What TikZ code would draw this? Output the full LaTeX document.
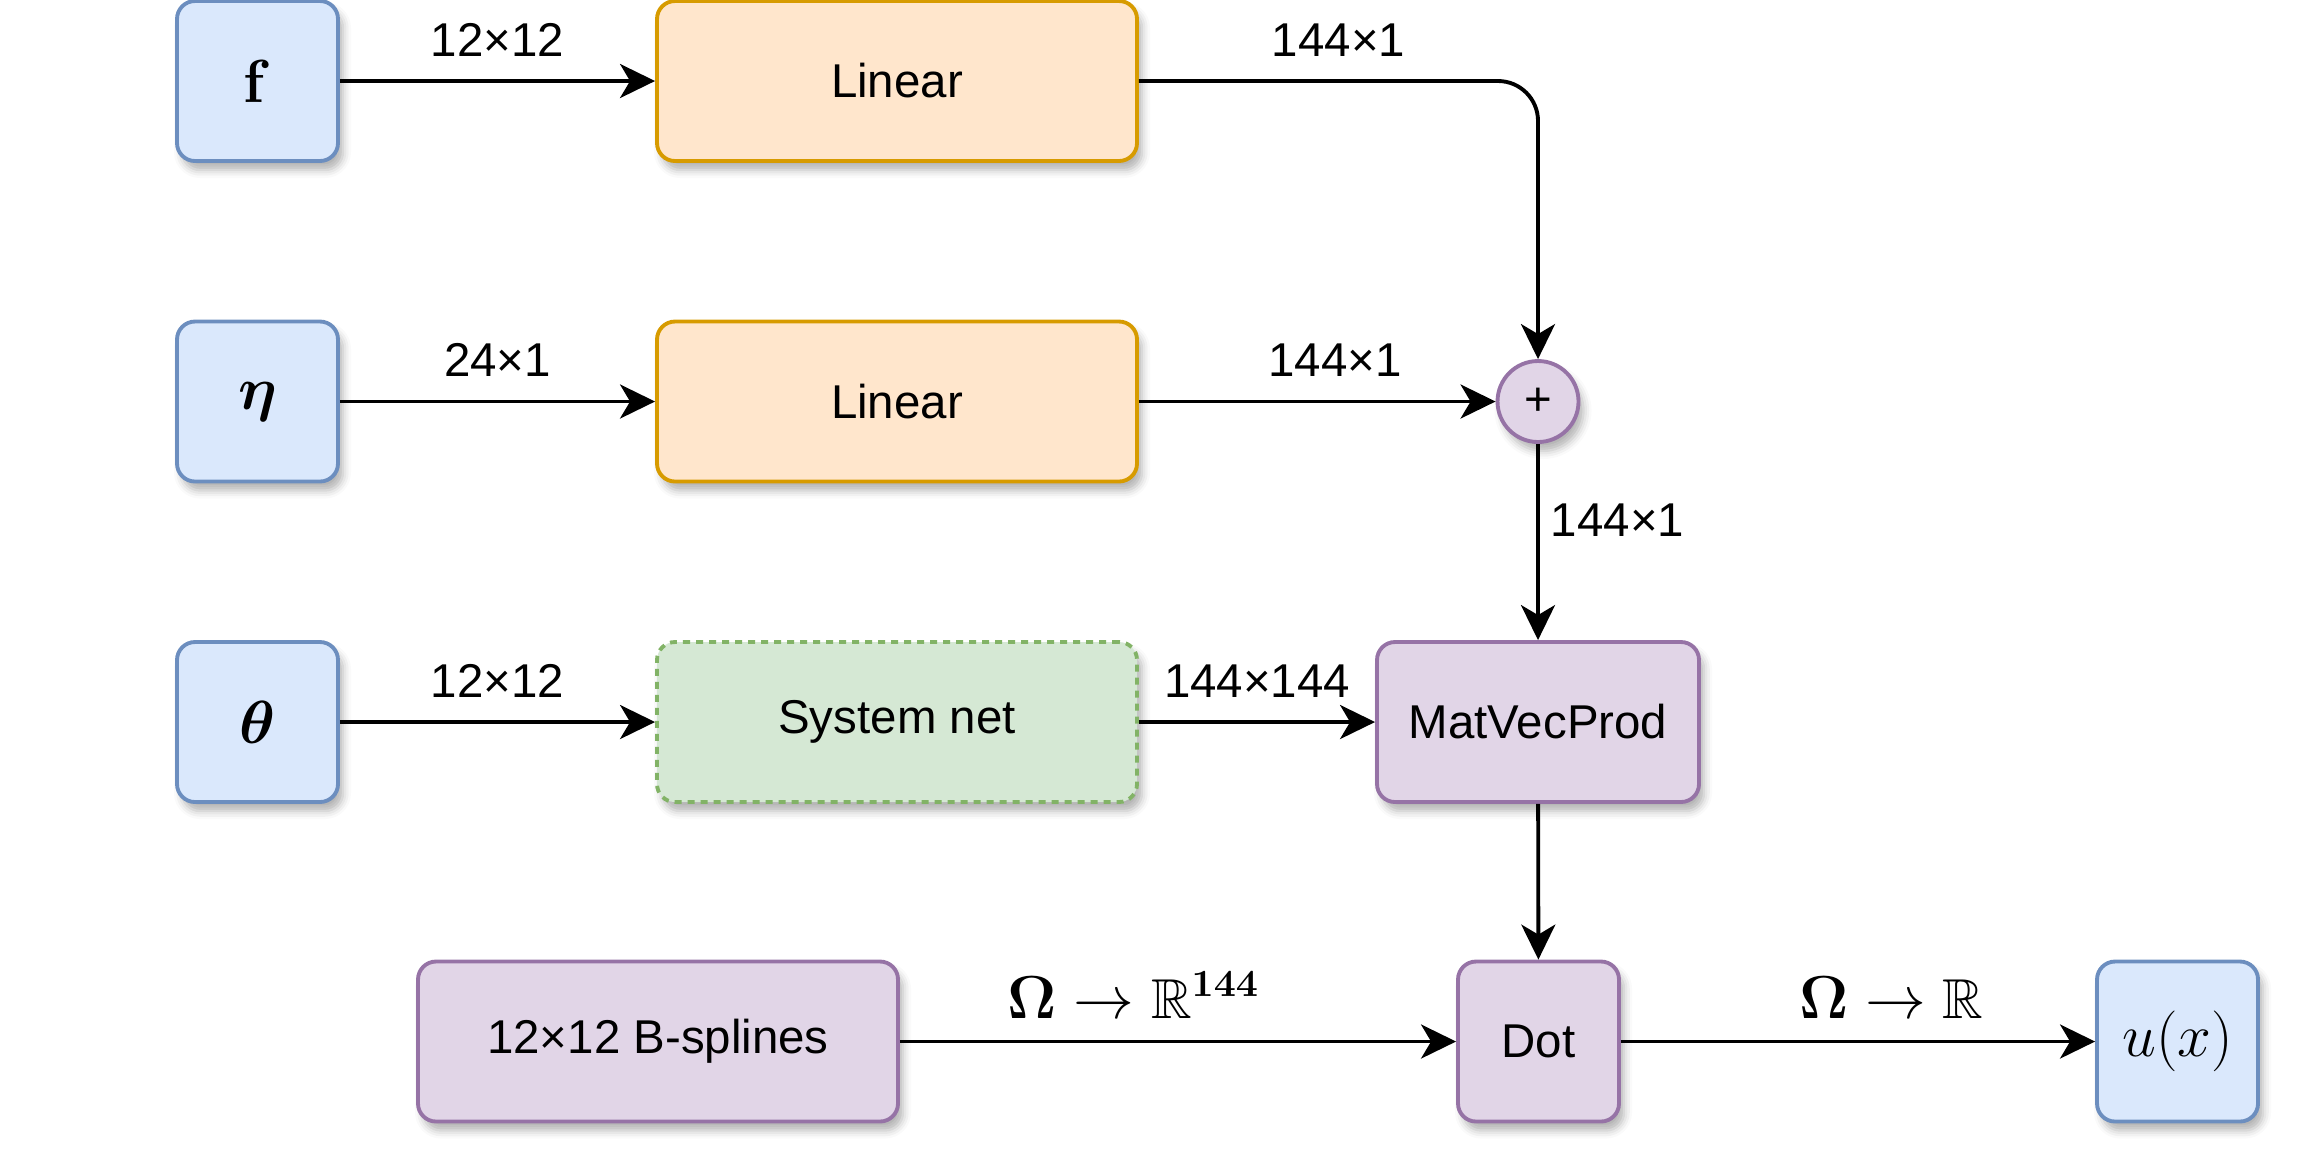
\documentclass[tikz,border=0pt]{standalone}
\usepackage{amsmath,amssymb}
\usepackage[no-math]{fontspec}
\setmainfont{Liberation Sans}
\usetikzlibrary{arrows.meta,shadows.blur}
\definecolor{bfill}{HTML}{DAE8FC}\definecolor{bline}{HTML}{6C8EBF}
\definecolor{ofill}{HTML}{FFE6CC}\definecolor{oline}{HTML}{D79B00}
\definecolor{gfill}{HTML}{D5E8D4}\definecolor{gline}{HTML}{82B366}
\definecolor{pfill}{HTML}{E1D5E7}\definecolor{pline}{HTML}{9673A6}
\begin{document}
\begin{tikzpicture}[
  shd/.style={blur shadow={shadow xshift=0.05cm, shadow yshift=-0.09cm, shadow blur radius=0.08cm, shadow opacity=30}},
  box/.style={rounded corners=0.18cm, line width=1.1pt, align=center, inner sep=0pt,
    minimum height=1.6cm, font=\fontsize{13.5}{16}\selectfont, shd},
  inbox/.style={box, fill=bfill, draw=bline, minimum width=1.61cm, font=\fontsize{16}{19}\selectfont},
  linbox/.style={box, fill=ofill, draw=oline, minimum width=4.8cm},
  sysbox/.style={box, fill=gfill, draw=gline, minimum width=4.8cm, dash pattern=on 0.07cm off 0.06cm},
  opbox/.style={box, fill=pfill, draw=pline},
  arr/.style={-{Stealth[length=0.35cm,width=0.34cm,inset=0.1cm]}, line width=1.1pt},
  lbl/.style={font=\fontsize{13.5}{16}\selectfont, inner sep=0pt, anchor=base, yshift=0.25cm},
  mlbl/.style={font=\fontsize{16}{19}\selectfont, inner sep=0pt, anchor=base, yshift=0.23cm}
]
\useasboundingbox (0,0) rectangle (23.16,-11.68);

\node[inbox] (f) at (2.575,-0.81) {$\mathbf{f}$};
\node[inbox] (eta) at (2.575,-4.015) {$\boldsymbol{\eta}$};
\node[inbox] (theta) at (2.575,-7.22) {$\boldsymbol{\theta}$};

\node[linbox] (lin1) at (8.97,-0.81) {Linear};
\node[linbox] (lin2) at (8.97,-4.015) {Linear};
\node[sysbox] (sys) at (8.97,-7.22) {System net};

\node[opbox, circle, minimum size=0.81cm, minimum height=0.81cm, rounded corners=0pt] (plus) at (15.38,-4.015) {+};
\node[opbox, minimum width=3.22cm] (mvp) at (15.38,-7.22) {MatVecProd};
\node[opbox, minimum width=1.61cm] (dot) at (15.385,-10.415) {Dot};
\node[opbox, minimum width=4.8cm] (bsp) at (6.58,-10.415) {12×12 B-splines};
\node[inbox] (u) at (21.775,-10.415) {$u(x)$};

\draw[arr] (f) -- node[lbl]{12×12} (lin1);
\draw[arr] (eta) -- node[lbl]{24×1} (lin2);
\draw[arr] (theta) -- node[lbl]{12×12} (sys);
\draw[arr, rounded corners=0.4cm] (lin1.east) -- node[lbl]{144×1} (lin1.east -| plus.north) -- (plus.north);
\draw[arr] (lin2) -- node[lbl, pos=0.55]{144×1} (plus);
\draw[arr] (plus) -- node[pos=0.39, anchor=west, xshift=0.11cm, inner sep=0pt, font=\fontsize{13.5}{16}\selectfont]{144×1} (mvp);
\draw[arr] (sys) -- node[lbl]{144×144} (mvp);
\draw[arr] (mvp) -- (dot);
\draw[arr] (bsp) -- node[mlbl, pos=0.42]{$\boldsymbol{\Omega}\to\mathbb{R}^{\mathbf{144}}$} (dot);
\draw[arr] (dot) -- node[mlbl, pos=0.57]{$\boldsymbol{\Omega}\to\mathbb{R}$} (u);
\end{tikzpicture}
\end{document}
